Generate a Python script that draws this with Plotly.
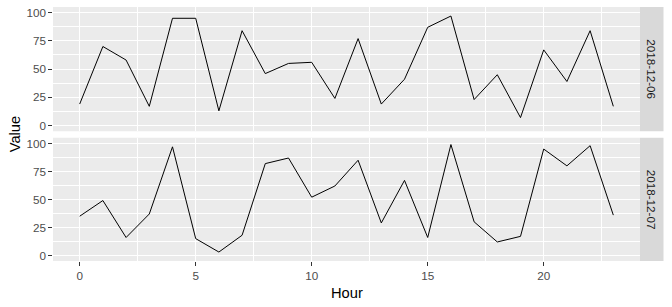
import plotly.graph_objects as go

hours = list(range(24))
dates = ["2018-12-06", "2018-12-07"]
values_1206 = [19, 70, 58, 17, 95, 95, 13, 84, 46, 55, 56, 24,
               77, 19, 41, 87, 97, 23, 45, 7, 67, 39, 84, 17]
values_1207 = [35, 49, 16, 37, 97, 15, 3, 18, 82, 87, 52, 62,
               85, 29, 67, 16, 99, 30, 12, 17, 95, 80, 98, 36]
x_ticks = [0, 5, 10, 15, 20]
y_ticks = [0, 25, 50, 75, 100]

W, H = 672, 307
L, R, T, B = 52.7, 640.0, 7.0, 260.7
gap_top_bottom = 131.0, 137.7
ph = B - T
top_dom = [(B - gap_top_bottom[0]) / ph, 1.0]
bot_dom = [0.0, (B - gap_top_bottom[1]) / ph]

fig = go.Figure()
fig.add_trace(go.Scatter(x=hours, y=values_1206, mode="lines",
                         line=dict(color="black", width=1), xaxis="x", yaxis="y",
                         showlegend=False))
fig.add_trace(go.Scatter(x=hours, y=values_1207, mode="lines",
                         line=dict(color="black", width=1), xaxis="x2", yaxis="y2",
                         showlegend=False))

xr = [-1.15, 24.15]
yr = [-5, 105]
font_tick = dict(family="Liberation Sans, Arial, sans-serif", size=11.7, color="#4D4D4D")
common_x = dict(range=xr, tickvals=x_ticks, showgrid=True, gridcolor="white", gridwidth=1.1,
                minor=dict(dtick=2.5, tick0=0, gridcolor="white", gridwidth=0.55, showgrid=True),
                zeroline=False, showline=False, tickfont=font_tick,
                ticks="outside", ticklen=3.7, tickwidth=1, tickcolor="#333333")
common_y = dict(range=yr, tickvals=y_ticks, showgrid=True, gridcolor="white", gridwidth=1.1,
                minor=dict(dtick=12.5, tick0=0, gridcolor="white", gridwidth=0.55, showgrid=True),
                zeroline=False, showline=False, tickfont=font_tick,
                ticks="outside", ticklen=3.7, tickwidth=1, tickcolor="#333333")

fig.update_layout(
    width=W, height=H,
    margin=dict(l=L, r=W - R, t=T, b=H - B, pad=0),
    paper_bgcolor="white", plot_bgcolor="rgba(0,0,0,0)",
    xaxis=dict(common_x, anchor="y", showticklabels=False, ticks=""),
    yaxis=dict(common_y, domain=top_dom, anchor="x"),
    xaxis2=dict(common_x, anchor="y2"),
    yaxis2=dict(common_y, domain=bot_dom, anchor="x2"),
    font=dict(family="Liberation Sans, Arial, sans-serif"),
)

shapes = []
annotations = []
for dom, yref, label in [(top_dom, "y", dates[0]), (bot_dom, "y2", dates[1])]:
    shapes.append(dict(type="rect", xref="paper", yref="paper", x0=0, x1=1,
                       y0=dom[0], y1=dom[1], fillcolor="#EBEBEB", line=dict(width=0),
                       layer="below"))
    strip_x1 = 1 + (663.5 - R) / (R - L)
    shapes.append(dict(type="rect", xref="paper", yref="paper", x0=1, x1=strip_x1,
                       y0=dom[0], y1=dom[1], fillcolor="#D9D9D9", line=dict(width=0)))
    annotations.append(dict(text=label, xref="paper", yref="paper",
                            x=(1 + strip_x1) / 2, y=(dom[0] + dom[1]) / 2,
                            textangle=90, showarrow=False, xanchor="center", yanchor="middle",
                            font=dict(family="Liberation Sans, Arial, sans-serif",
                                      size=11.7, color="#1A1A1A")))

annotations.append(dict(text="Value", xref="paper", yref="paper",
                        x=(15 - L) / (R - L), y=0.5, textangle=-90, showarrow=False,
                        xanchor="center", yanchor="middle",
                        font=dict(family="Liberation Sans, Arial, sans-serif", size=14.7, color="black")))
annotations.append(dict(text="Hour", xref="paper", yref="paper",
                        x=0.5, y=-(293 - B) / ph, showarrow=False,
                        xanchor="center", yanchor="middle",
                        font=dict(family="Liberation Sans, Arial, sans-serif", size=14.7, color="black")))

fig.update_layout(shapes=shapes, annotations=annotations)
fig.write_html("out.html")
